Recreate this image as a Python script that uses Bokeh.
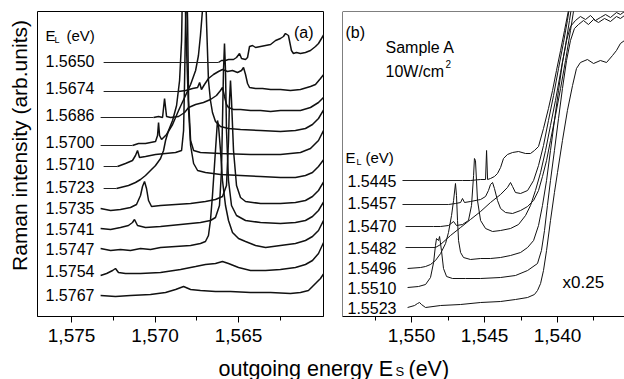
from bokeh.plotting import figure
from bokeh.models import Label, Span, FixedTicker, CustomJSTickFormatter, Range1d
from bokeh.layouts import row, column
from bokeh.embed import file_html
from bokeh.resources import INLINE

FONT = "Liberation Sans"

# ---------------- Panel (a): outgoing energy (eV) vs Raman intensity (arb. units) ----------------
e_5650 = [1.56620, 1.56602, 1.56578, 1.56560, 1.56530, 1.56512, 1.56494, 1.56482, 1.56458, 1.56446,
          1.56434, 1.56416, 1.56398, 1.56368, 1.56338, 1.56308, 1.56278, 1.56249, 1.56231, 1.56219,
          1.56201, 1.56183, 1.56171, 1.56153, 1.56129, 1.56099, 1.56069, 1.56039, 1.56021, 1.56003, 1.55985]
i_5650 = [254, 256, 256, 257, 257, 259, 263, 258, 257, 259, 270, 271, 269, 270, 271, 272, 276, 278, 280, 283,
          281, 266, 263, 264, 263, 264, 266, 270, 273, 278, 283]

e_5674 = [1.56859, 1.56817, 1.56775, 1.56745, 1.56733, 1.56722, 1.56704, 1.56680, 1.56650, 1.56620,
          1.56596, 1.56566, 1.56536, 1.56506, 1.56482, 1.56470, 1.56458, 1.56446, 1.56434, 1.56398,
          1.56356, 1.56308, 1.56249, 1.56189, 1.56129, 1.56069, 1.56039, 1.56009, 1.55985]
i_5674 = [225, 226, 228, 229, 234, 227, 232, 238, 242, 245, 247, 245, 246, 244, 246, 249, 242, 233, 229, 228,
          228, 227, 227, 226, 227, 230, 232, 238, 243]

e_5686 = [1.57009, 1.56979, 1.56955, 1.56943, 1.56931, 1.56907, 1.56859, 1.56823, 1.56799, 1.56757,
          1.56710, 1.56668, 1.56632, 1.56608, 1.56596, 1.56584, 1.56572, 1.56560, 1.56530, 1.56488,
          1.56428, 1.56368, 1.56308, 1.56249, 1.56189, 1.56129, 1.56069, 1.56021, 1.55985]
i_5686 = [199, 200, 199, 218, 200, 199, 200, 204, 209, 212, 214, 217, 221, 226, 229, 220, 212, 209, 207, 207,
          206, 206, 205, 206, 206, 206, 209, 214, 220]

e_5700 = [1.57135, 1.57099, 1.57057, 1.57027, 1.56997, 1.56985, 1.56979, 1.56973, 1.56961, 1.56931,
          1.56895, 1.56859, 1.56823, 1.56787, 1.56757, 1.56740, 1.56728, 1.56716, 1.56710, 1.56698,
          1.56692, 1.56686, 1.56680, 1.56668, 1.56656, 1.56638, 1.56608, 1.56560, 1.56488, 1.56368,
          1.56249, 1.56159, 1.56099, 1.56057, 1.56021, 1.55985]
i_5700 = [171, 173, 173, 174, 175, 181, 194, 181, 177, 182, 192, 206, 219, 232, 246, 261, 281, 306, 336, 336,
          296, 266, 236, 216, 204, 195, 190, 188, 187, 186, 185, 186, 188, 192, 198, 208]

e_5710 = [1.57225, 1.57177, 1.57135, 1.57117, 1.57105, 1.57093, 1.57057, 1.56997, 1.56937, 1.56877,
          1.56841, 1.56829, 1.56823, 1.56817, 1.56811, 1.56805, 1.56799, 1.56787, 1.56769, 1.56728,
          1.56608, 1.56428, 1.56249, 1.56129, 1.56069, 1.56021, 1.55985]
i_5710 = [150, 153, 156, 161, 166, 159, 160, 162, 163, 164, 166, 186, 236, 296, 336, 296, 216, 176, 166, 164,
          163, 162, 162, 164, 168, 176, 188]

e_5723 = [1.57231, 1.57207, 1.57159, 1.57117, 1.57087, 1.57057, 1.57027, 1.56997, 1.56967, 1.56949,
          1.56937, 1.56919, 1.56895, 1.56871, 1.56853, 1.56841, 1.56835, 1.56823, 1.56811, 1.56799,
          1.56787, 1.56769, 1.56745, 1.56698, 1.56608, 1.56488, 1.56368, 1.56249, 1.56159, 1.56099,
          1.56057, 1.56021, 1.55985]
i_5723 = [128, 129, 131, 134, 137, 141, 146, 151, 158, 166, 176, 186, 196, 211, 236, 276, 336, 336, 266, 206,
          171, 153, 146, 144, 142, 141, 140, 139, 139, 141, 144, 150, 158]

e_5735 = [1.57326, 1.57266, 1.57207, 1.57147, 1.57111, 1.57087, 1.57075, 1.57063, 1.57051, 1.57039,
          1.57021, 1.56967, 1.56877, 1.56787, 1.56698, 1.56638, 1.56596, 1.56572, 1.56560, 1.56554,
          1.56548, 1.56542, 1.56530, 1.56512, 1.56488, 1.56458, 1.56368, 1.56249, 1.56159, 1.56099,
          1.56057, 1.56021, 1.55985]
i_5735 = [108, 106, 107, 109, 112, 121, 130, 135, 128, 116, 110, 111, 112, 113, 115, 117, 120, 131, 176, 216,
          236, 216, 166, 131, 119, 115, 113, 113, 114, 116, 120, 126, 136]

e_5741 = [1.57326, 1.57266, 1.57207, 1.57159, 1.57135, 1.57123, 1.57105, 1.57057, 1.56967, 1.56847,
          1.56728, 1.56668, 1.56638, 1.56614, 1.56602, 1.56596, 1.56590, 1.56584, 1.56578, 1.56572,
          1.56560, 1.56542, 1.56512, 1.56458, 1.56368, 1.56249, 1.56159, 1.56099, 1.56057, 1.56021, 1.55985]
i_5741 = [88, 87, 89, 91, 94, 97, 91, 89, 90, 92, 94, 96, 99, 111, 146, 196, 246, 273, 246, 186,
          136, 111, 101, 96, 94, 93, 94, 96, 100, 106, 116]

e_5747 = [1.57326, 1.57266, 1.57207, 1.57147, 1.57087, 1.57027, 1.56967, 1.56877, 1.56787, 1.56728,
          1.56698, 1.56680, 1.56668, 1.56656, 1.56644, 1.56632, 1.56626, 1.56620, 1.56608, 1.56596,
          1.56578, 1.56560, 1.56536, 1.56500, 1.56458, 1.56398, 1.56338, 1.56249, 1.56159, 1.56099,
          1.56057, 1.56021, 1.55985]
i_5747 = [68, 66, 67, 66, 68, 67, 69, 70, 71, 73, 75, 81, 96, 121, 151, 181, 196, 191, 166, 136,
          111, 96, 84, 78, 75, 71, 69, 71, 73, 76, 80, 86, 98]

e_5754 = [1.57326, 1.57290, 1.57254, 1.57237, 1.57219, 1.57177, 1.57087, 1.56967, 1.56847, 1.56757,
          1.56698, 1.56638, 1.56596, 1.56560, 1.56500, 1.56428, 1.56338, 1.56249, 1.56159, 1.56099,
          1.56057, 1.56021, 1.55985]
i_5754 = [41, 43, 46, 48, 44, 43, 43, 44, 47, 50, 52, 53, 55, 53, 49, 46, 46, 47, 49, 52, 56, 63, 76]

e_5767 = [1.57326, 1.57237, 1.57147, 1.57027, 1.56937, 1.56877, 1.56829, 1.56787, 1.56728, 1.56638,
          1.56548, 1.56428, 1.56308, 1.56189, 1.56129, 1.56081, 1.56057, 1.56033, 1.56009, 1.55985]
i_5767 = [21, 20, 21, 22, 24, 27, 30, 27, 26, 25, 25, 24, 24, 23, 24, 26, 30, 34, 38, 44]

labels_a = ["1.5650", "1.5674", "1.5686", "1.5700", "1.5710", "1.5723",
            "1.5735", "1.5741", "1.5747", "1.5754", "1.5767"]
lead_start_a = [1.57308, 1.57308, 1.57326, 1.57326, 1.57308, 1.57308]

# ---------------- Panel (b) ----------------
e_5445 = [1.54651, 1.54596, 1.54527, 1.54493, 1.54486, 1.54479, 1.54459, 1.54432, 1.54411, 1.54390,
          1.54370, 1.54343, 1.54308, 1.54267, 1.54219, 1.54185, 1.54158, 1.54130, 1.54096, 1.54062,
          1.54034, 1.54007, 1.53979, 1.53952, 1.53925, 1.53911]
i_5445 = [136, 136, 137, 137, 166, 137, 138, 140, 143, 149, 158, 162, 164, 165, 163, 163, 166, 170, 188, 208,
          226, 246, 266, 286, 306, 326]

e_5457 = [1.54747, 1.54699, 1.54664, 1.54651, 1.54637, 1.54596, 1.54527, 1.54493, 1.54473, 1.54459,
          1.54445, 1.54432, 1.54411, 1.54390, 1.54356, 1.54308, 1.54253, 1.54205, 1.54164, 1.54130,
          1.54103, 1.54075, 1.54048, 1.54014, 1.53979, 1.53945, 1.53911, 1.53884, 1.53870]
i_5457 = [112, 113, 114, 118, 114, 115, 117, 120, 126, 132, 134, 128, 116, 108, 104, 103, 106, 110, 116, 126,
          140, 156, 176, 201, 228, 256, 286, 311, 326]

e_5470 = [1.54849, 1.54801, 1.54747, 1.54712, 1.54692, 1.54651, 1.54610, 1.54589, 1.54575, 1.54569,
          1.54562, 1.54555, 1.54548, 1.54527, 1.54493, 1.54445, 1.54390, 1.54322, 1.54267, 1.54219,
          1.54185, 1.54151, 1.54116, 1.54082, 1.54048, 1.54014, 1.53979, 1.53945, 1.53918, 1.53897, 1.53884]
i_5470 = [90, 90, 91, 95, 91, 92, 96, 111, 141, 158, 156, 136, 116, 96, 88, 85, 86, 88, 92, 101,
          111, 126, 144, 166, 191, 216, 244, 271, 296, 316, 326]

e_5482 = [1.54836, 1.54801, 1.54733, 1.54664, 1.54596, 1.54527, 1.54459, 1.54390, 1.54343, 1.54322,
          1.54308, 1.54288, 1.54253, 1.54205, 1.54164, 1.54130, 1.54096, 1.54062, 1.54027, 1.53993,
          1.53959, 1.53932, 1.53911, 1.53897]
i_5482 = [69, 72, 81, 89, 97, 105, 114, 122, 129, 134, 130, 124, 123, 126, 136, 151, 171, 196, 221, 248,
          274, 296, 316, 326]

e_5496 = [1.55027, 1.54938, 1.54904, 1.54870, 1.54836, 1.54801, 1.54767, 1.54747, 1.54726, 1.54712,
          1.54699, 1.54692, 1.54685, 1.54678, 1.54664, 1.54644, 1.54596, 1.54527, 1.54459, 1.54390,
          1.54322, 1.54253, 1.54205, 1.54164, 1.54130, 1.54103, 1.54075, 1.54048, 1.54021, 1.53993,
          1.53966, 1.53938, 1.53911, 1.53877, 1.53843, 1.53808, 1.53774, 1.53740, 1.53706, 1.53671,
          1.53637, 1.53596, 1.53569, 1.53541]
i_5496 = [48, 49, 50, 52, 56, 63, 73, 84, 101, 116, 133, 121, 96, 76, 64, 59, 57, 58, 58, 59,
          61, 64, 69, 76, 91, 111, 136, 166, 196, 226, 254, 276, 290, 296, 300, 297, 301, 296, 299, 302,
          299, 304, 302, 305]

e_5510 = [1.55027, 1.54952, 1.54904, 1.54870, 1.54849, 1.54836, 1.54829, 1.54815, 1.54808, 1.54795,
          1.54781, 1.54760, 1.54719, 1.54630, 1.54527, 1.54390, 1.54288, 1.54205, 1.54137, 1.54110,
          1.54089, 1.54069, 1.54048, 1.54021, 1.53993, 1.53966, 1.53938, 1.53911, 1.53884, 1.53856,
          1.53822, 1.53788, 1.53753, 1.53719, 1.53678, 1.53637, 1.53596, 1.53569, 1.53541]
i_5510 = [29, 30, 32, 39, 54, 71, 78, 76, 80, 66, 48, 40, 38, 38, 38, 39, 41, 46, 53, 66,
          86, 111, 136, 166, 198, 228, 256, 276, 288, 292, 296, 292, 297, 294, 298, 295, 300, 298, 301]

e_5523 = [1.55027, 1.54979, 1.54959, 1.54945, 1.54932, 1.54904, 1.54801, 1.54664, 1.54527, 1.54390,
          1.54288, 1.54205, 1.54158, 1.54137, 1.54116, 1.54096, 1.54075, 1.54048, 1.54021, 1.54000,
          1.53966, 1.53932, 1.53897, 1.53870, 1.53843, 1.53795, 1.53753, 1.53706, 1.53664, 1.53623,
          1.53596, 1.53569, 1.53541]
i_5523 = [9, 11, 13, 14, 12, 9, 11, 12, 14, 15, 17, 19, 22, 26, 33, 46, 66, 96, 124, 144,
          176, 206, 231, 248, 254, 257, 253, 256, 254, 261, 266, 273, 276]

labels_b = ["1.5445", "1.5457", "1.5470", "1.5482", "1.5496", "1.5510", "1.5523"]
lead_start_b = [1.55062, 1.55062, 1.55041, 1.55041]

ticks_a = [1.575, 1.570, 1.565]
minor_a = [1.5725, 1.5675, 1.5625]
ticks_b = [1.550, 1.545, 1.540]
minor_b = [1.5525, 1.5475, 1.5425, 1.5375]

curves_a = [(e_5650, i_5650), (e_5674, i_5674), (e_5686, i_5686), (e_5700, i_5700),
            (e_5710, i_5710), (e_5723, i_5723), (e_5735, i_5735), (e_5741, i_5741),
            (e_5747, i_5747), (e_5754, i_5754), (e_5767, i_5767)]
curves_b = [(e_5445, i_5445), (e_5457, i_5457), (e_5470, i_5470), (e_5482, i_5482),
            (e_5496, i_5496), (e_5510, i_5510), (e_5523, i_5523)]

PANEL_H = 352


def panel(x0, x1, width, bl, br, majors, minors):
    p = figure(width=width, height=PANEL_H, x_range=Range1d(x0, x1), y_range=Range1d(0, 305),
               y_axis_type=None, toolbar_location=None, output_backend="svg",
               min_border_left=bl, min_border_right=br, min_border_top=11, min_border_bottom=36)
    p.grid.visible = False
    p.background_fill_color = "white"
    p.border_fill_color = "white"
    ax = p.xaxis[0]
    ax.ticker = FixedTicker(ticks=majors, minor_ticks=minors)
    ax.formatter = CustomJSTickFormatter(code="return tick.toFixed(3).replace('.', ',');")
    ax.major_tick_out = 6
    ax.major_tick_in = 0
    ax.minor_tick_out = 4
    ax.minor_tick_in = 0
    ax.axis_line_color = "black"
    ax.major_tick_line_color = "black"
    ax.minor_tick_line_color = "black"
    ax.major_label_text_font = FONT
    ax.major_label_text_font_size = "19px"
    ax.major_label_text_color = "black"
    ax.major_label_standoff = 6
    return p


def blank(width, height):
    p = figure(width=width, height=height, x_range=Range1d(0, 1), y_range=Range1d(0, 1),
               x_axis_type=None, y_axis_type=None, toolbar_location=None, output_backend="svg",
               min_border=0)
    p.outline_line_color = None
    p.grid.visible = False
    p.background_fill_color = "white"
    p.border_fill_color = "white"
    return p


def txt(p, x, y, s, size, align="left", baseline="alphabetic", angle=0.0):
    p.add_layout(Label(x=x, y=y, x_units="screen", y_units="screen", text=s,
                       text_font=FONT, text_font_size=size, text_color="black",
                       text_align=align, text_baseline=baseline, angle=angle))


# ---- y-axis title strip ----
py_ = blank(36, PANEL_H)
txt(py_, 19, 171, "Raman intensity (arb.units)", "21px", align="center", angle=1.5708)

# ---- panel a ----
pa = panel(1.57704, 1.55991, 297, 1, 10, ticks_a, minor_a)
pa.outline_line_color = "black"
pa.outline_line_width = 1
for e, i in curves_a:
    pa.line(e, i, line_color="#111111", line_width=1.5)
pa.segment(x0=lead_start_a, y0=[c[1][0] for c in curves_a[:6]],
           x1=[c[0][0] for c in curves_a[:6]], y1=[c[1][0] for c in curves_a[:6]],
           line_color="#222222", line_width=1)

label_y_a = [256, 229, 202, 175, 153, 130, 109, 88, 68, 46, 22]
for s, y in zip(labels_a, label_y_a):
    txt(pa, 8, y, s, "16px")
txt(pa, 8, 281, "E", "15px")
txt(pa, 17, 277, "L", "9px")
txt(pa, 29, 281, "(eV)", "15px")
txt(pa, 276, 284, "(a)", "16px", align="right")

# ---- panel b ----
pb = panel(1.55473, 1.53541, 291, 9, 0, ticks_b, minor_b)
pb.outline_line_color = None
pb.add_layout(Span(location=305, dimension="width", line_color="black", line_width=1))
pb.add_layout(Span(location=1.55473, dimension="height", line_color="black", line_width=1))
for e, i in curves_b:
    pb.line(e, i, line_color="#111111", line_width=1)
pb.segment(x0=lead_start_b, y0=[c[1][0] for c in curves_b[:4]],
           x1=[c[0][0] for c in curves_b[:4]], y1=[c[1][0] for c in curves_b[:4]],
           line_color="#222222", line_width=1)

label_y_b = [136, 114, 91, 69, 49, 29, 9]
for s, y in zip(labels_b, label_y_b):
    txt(pb, 5, y, s, "16px")
txt(pb, 3, 159, "E", "15px")
txt(pb, 14, 155, "L", "9px")
txt(pb, 23, 159, "(eV)", "15px")
txt(pb, 3, 284, "(b)", "16px")
txt(pb, 43, 269, "Sample A", "16px")
txt(pb, 43, 245, "10W/cm", "16px")
txt(pb, 103, 253, "2", "10px")
txt(pb, 220, 34, "x0.25", "17px")

# ---- shared x-axis title ----
pt = blank(624, 379 - PANEL_H)
txt(pt, 218, 11, "outgoing energy E", "21.5px")
txt(pt, 395, 8, "S", "13px")
txt(pt, 408, 11, "(eV)", "21.5px")

layout = column(row(py_, pa, pb), pt)
open("out.html", "w").write(file_html(layout, INLINE, "Raman spectra"))
